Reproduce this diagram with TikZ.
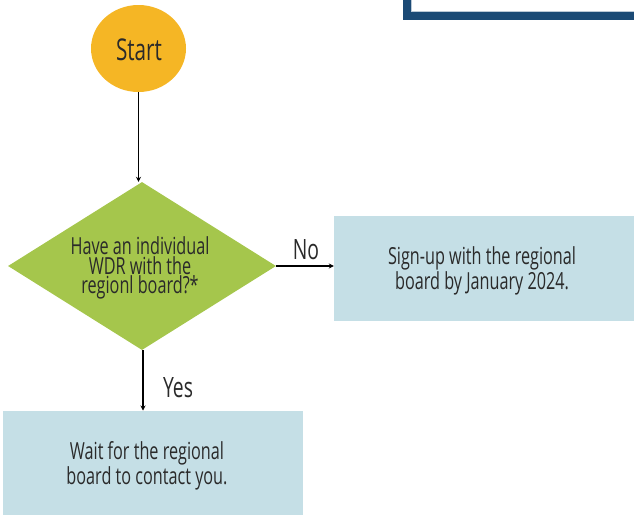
\documentclass[tikz,border=0pt]{standalone}
\usepackage{fontspec}
\setmainfont[FakeStretch=0.69]{Open Sans}
\usetikzlibrary{shapes.geometric,arrows.meta}
\definecolor{startc}{HTML}{F5B625}
\definecolor{decc}{HTML}{A5C64C}
\definecolor{boxc}{HTML}{C5DFE6}
\definecolor{framec}{HTML}{1B4A75}
\definecolor{txt}{HTML}{2A2A2A}
\begin{document}
\begin{tikzpicture}[x=1pt,y=-1pt,
  lbl/.style={text=txt,font=\fontsize{23.5}{19.5}\selectfont,align=center,inner sep=0pt},
  conn/.style={-{Stealth[length=5pt,width=5pt]},line width=1.4pt,black},
  edgelbl/.style={text=txt,font=\fontsize{28}{28}\selectfont,inner sep=0pt}]
\useasboundingbox (0,0) rectangle (634,515);
\begin{scope}
\clip (0,0) rectangle (634,515);
\draw[framec,line width=8pt] (407,-30) rectangle (660,15.5);
\draw[white!70!framec,line width=0.8pt] (411.5,-30) -- (411.5,11) -- (660,11);
\end{scope}
\node[ellipse,fill=startc,minimum width=95pt,minimum height=87pt,inner sep=0pt] (start) at (138.5,48.5) {};
\node[text=txt,font=\fontsize{30}{30}\selectfont,inner sep=0pt] at (139,50) {Start};
\node[diamond,fill=decc,minimum width=268pt,minimum height=168pt,inner sep=0pt,aspect=1.6] (dec) at (142,266) {};
\node[lbl] at (140,268) {Have an individual\\WDR with the\\regionl board?*};
\node[fill=boxc,minimum width=300pt,minimum height=105pt,inner sep=0pt] (sign) at (484,268.5) {};
\node[lbl] at (482,271) {Sign-up with the regional\\board by January 2024.};
\node[fill=boxc,minimum width=300pt,minimum height=104pt,inner sep=0pt] (wait) at (153,463) {};
\node[lbl] at (147,466) {Wait for the regional\\board to contact you.};
\draw[conn] (start.south) -- (start.south |- dec.north);
\draw[conn] (dec.east) -- (sign.west |- dec.east);
\draw[conn] (dec.south -| 143,0) -- (143,410.5);
\node[edgelbl] at (306,250) {No};
\node[edgelbl] at (178,388) {Yes};
\end{tikzpicture}
\end{document}
